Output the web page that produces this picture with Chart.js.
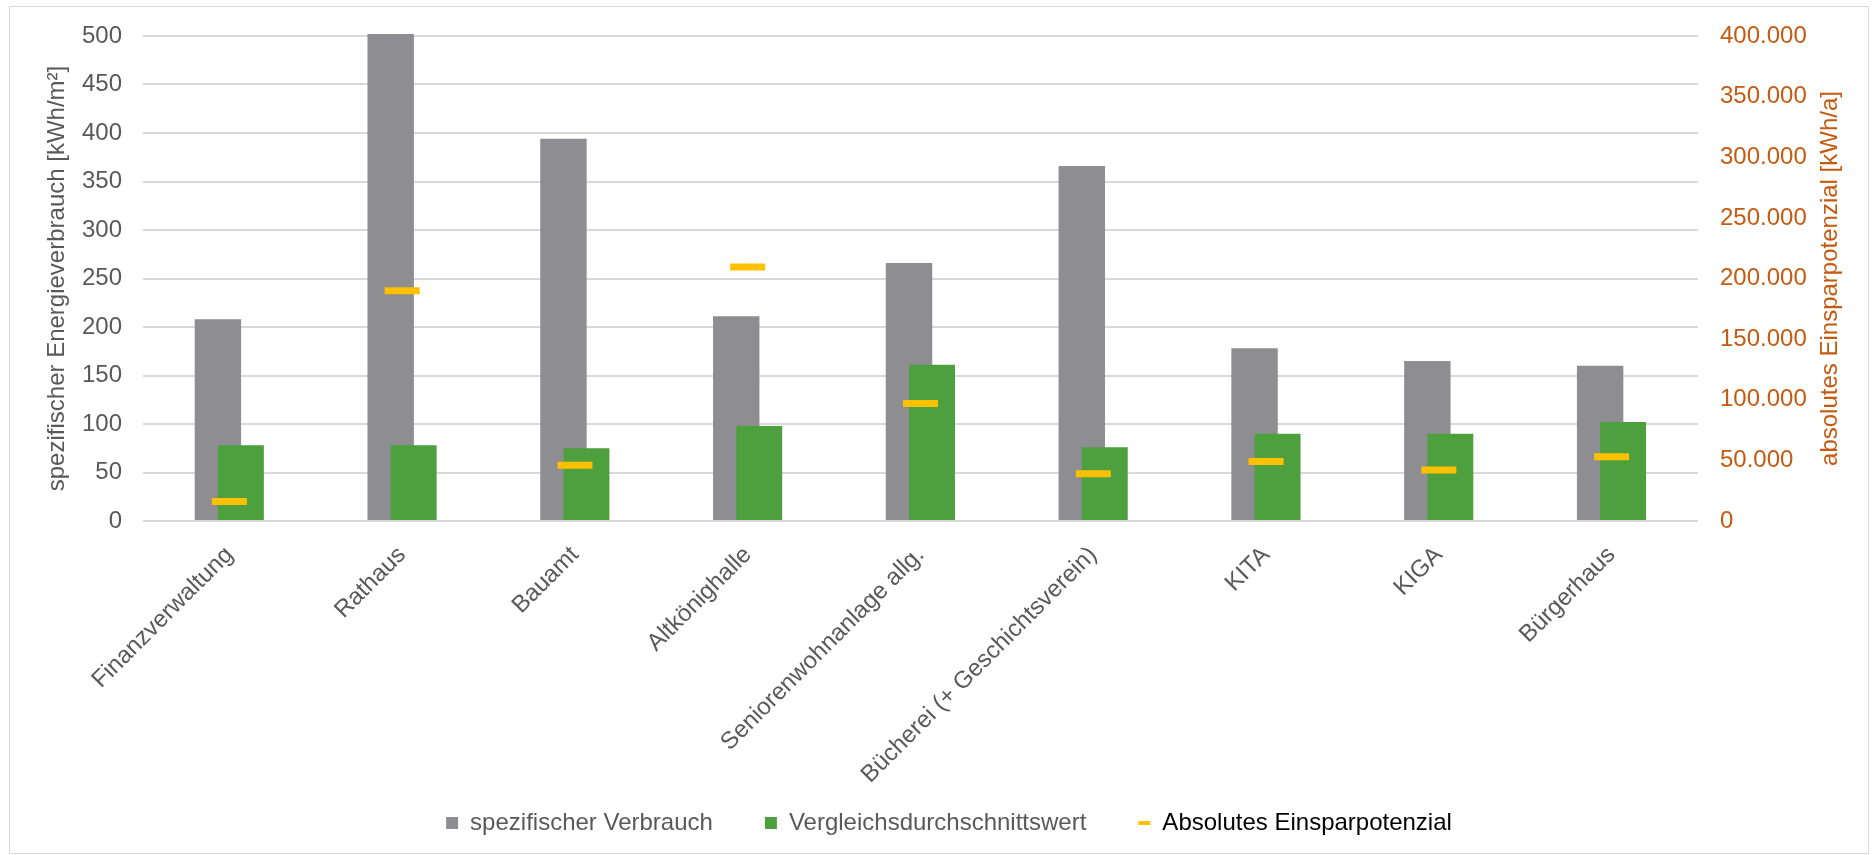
<!DOCTYPE html>
<html>
<head>
<meta charset="utf-8">
<script src="https://cdn.jsdelivr.net/npm/chart.js@4.4.1/dist/chart.umd.min.js"></script>
<style>
  html, body { margin: 0; padding: 0; background: #ffffff; }
  #frame {
    position: absolute; left: 9px; top: 6px;
    width: 1858px; height: 846px;
    border: 1px solid #d9d9d9;
  }
  #energyChart { display: block; }
</style>
</head>
<body>
<div id="frame"><canvas id="energyChart" width="1858" height="846"></canvas></div>
<script>
// Buildings and their values
var buildings = ["Finanzverwaltung", "Rathaus", "Bauamt", "Altkönighalle", "Seniorenwohnanlage allg.",
  "Bücherei (+ Geschichtsverein)", "KITA", "KIGA", "Bürgerhaus"];
var specificUse = [208, 502, 394, 211, 266, 366, 178, 165, 160];        // kWh/m²
var benchmarkAvg = [78, 78, 75, 98, 161, 76, 90, 90, 102];             // kWh/m²
var savingPotential = [16000, 190000, 46000, 209500, 97000, 39000, 49000, 42000, 53000]; // kWh/a

var leftTicks = [0, 500, 50];
var rightTicks = [0, 400000, 50000];

var FONT = "'Liberation Sans', Arial, sans-serif";
var GREY_TEXT = "#595959";
var RUST = "#C55A11";
var PLOT_TOP = 29, PLOT_BOTTOM = 514, PAD_LEFT = 20, PAD_BOTTOM = 8;

function germanThousands(v) {
  return String(Math.round(v)).replace(/\B(?=(\d{3})+(?!\d))/g, ".");
}

// green bars get drawn right after the grey ones so they sit on top of them
var greenOverGrey = {
  id: "greenOverGrey",
  beforeDatasetDraw: function (chart, args) {
    if (args.index === 1) return false;
  },
  afterDatasetDraw: function (chart, args) {
    if (args.index === 0) chart.getDatasetMeta(1).controller.draw();
  }
};

// long rotated building names may run past the axis box, don't cut them off
var unclippedLabels = {
  id: "unclippedLabels",
  beforeDraw: function (chart) {
    chart.scales.x._computeLabelArea = function () { return undefined; };
  }
};

// right axis title reads bottom-to-top like the left one
var rightTitle = {
  id: "rightTitle",
  afterDraw: function (chart) {
    var ctx = chart.ctx, area = chart.chartArea;
    ctx.save();
    ctx.translate(1820, (area.top + area.bottom) / 2);
    ctx.rotate(-Math.PI / 2);
    ctx.font = "24px " + FONT;
    ctx.fillStyle = RUST;
    ctx.textAlign = "center";
    ctx.textBaseline = "middle";
    ctx.fillText("absolutes Einsparpotenzial [kWh/a]", 0, 0);
    ctx.restore();
  }
};

function fixVertical(width) {
  return function (s) {
    s.width = width;
    s.paddingTop = 0;
    s.paddingBottom = 0;
  };
}

var ctx = document.getElementById("energyChart").getContext("2d");
var energyChart = new Chart(ctx, {
  type: "bar",
  data: {
    labels: buildings,
    datasets: [
      {
        label: "spezifischer Verbrauch",
        data: specificUse,
        backgroundColor: "#8e8d92",
        pointStyle: "rect",
        yAxisID: "y",
        clip: false,
        categoryPercentage: 0.266,
        barPercentage: 2.02
      },
      {
        label: "Vergleichsdurchschnittswert",
        data: benchmarkAvg,
        backgroundColor: "#4e9f3d",
        pointStyle: "rect",
        yAxisID: "y",
        categoryPercentage: 0.266,
        barPercentage: 2.0
      },
      {
        type: "line",
        label: "Absolutes Einsparpotenzial",
        data: savingPotential,
        yAxisID: "y1",
        order: -1,
        showLine: false,
        pointStyle: "line",
        pointRadius: 17.5,
        pointHoverRadius: 17.5,
        borderColor: "#FFC000",
        backgroundColor: "#FFC000",
        pointBorderWidth: 7,
        borderWidth: 7
      }
    ]
  },
  options: {
    responsive: false,
    devicePixelRatio: 1,
    animation: false,
    events: [],
    layout: { padding: { top: PLOT_TOP, left: PAD_LEFT, right: 0, bottom: PAD_BOTTOM } },
    plugins: {
      tooltip: { enabled: false },
      legend: {
        position: "bottom",
        labels: {
          font: { family: FONT, size: 24 },
          color: GREY_TEXT,
          usePointStyle: true,
          pointStyleWidth: 12,
          boxHeight: 12,
          padding: 52,
          sort: function (a, b) { return a.datasetIndex - b.datasetIndex; },
          generateLabels: function (chart) {
            var items = Chart.defaults.plugins.legend.labels.generateLabels(chart);
            items.forEach(function (item) {
              if (item.datasetIndex === 2) {
                item.lineWidth = 4;
                item.strokeStyle = "#FFC000";
                item.fontColor = "#000000";
              } else {
                item.lineWidth = 0;
                item.fontColor = GREY_TEXT;
              }
            });
            return items;
          }
        }
      }
    },
    scales: {
      x: {
        grid: { display: false },
        border: { display: false },
        ticks: {
          autoSkip: false,
          minRotation: 45,
          maxRotation: 45,
          padding: 12,
          color: GREY_TEXT,
          font: { family: FONT, size: 24 }
        },
        afterFit: function (s) {
          s.height = s.chart.height - PAD_BOTTOM - s.chart.legend.height - PLOT_BOTTOM;
        }
      },
      y: {
        position: "left",
        min: leftTicks[0],
        max: leftTicks[1],
        ticks: {
          stepSize: leftTicks[2],
          padding: 21,
          color: GREY_TEXT,
          font: { family: FONT, size: 24 }
        },
        grid: { color: "#d9d9d9", lineWidth: 2, drawTicks: false },
        border: { display: false },
        title: {
          display: true,
          text: "spezifischer Energieverbrauch [kWh/m²]",
          color: GREY_TEXT,
          font: { family: FONT, size: 24 },
          padding: { top: 13, bottom: 0 }
        },
        afterFit: fixVertical(133 - PAD_LEFT)
      },
      y1: {
        position: "right",
        min: rightTicks[0],
        max: rightTicks[1],
        ticks: {
          stepSize: rightTicks[2],
          padding: 22,
          color: RUST,
          font: { family: FONT, size: 24 },
          callback: function (v) { return germanThousands(v); }
        },
        grid: { display: false, drawTicks: false },
        border: { display: false },
        afterFit: fixVertical(170)
      }
    }
  },
  plugins: [greenOverGrey, unclippedLabels, rightTitle]
});
</script>
</body>
</html>
